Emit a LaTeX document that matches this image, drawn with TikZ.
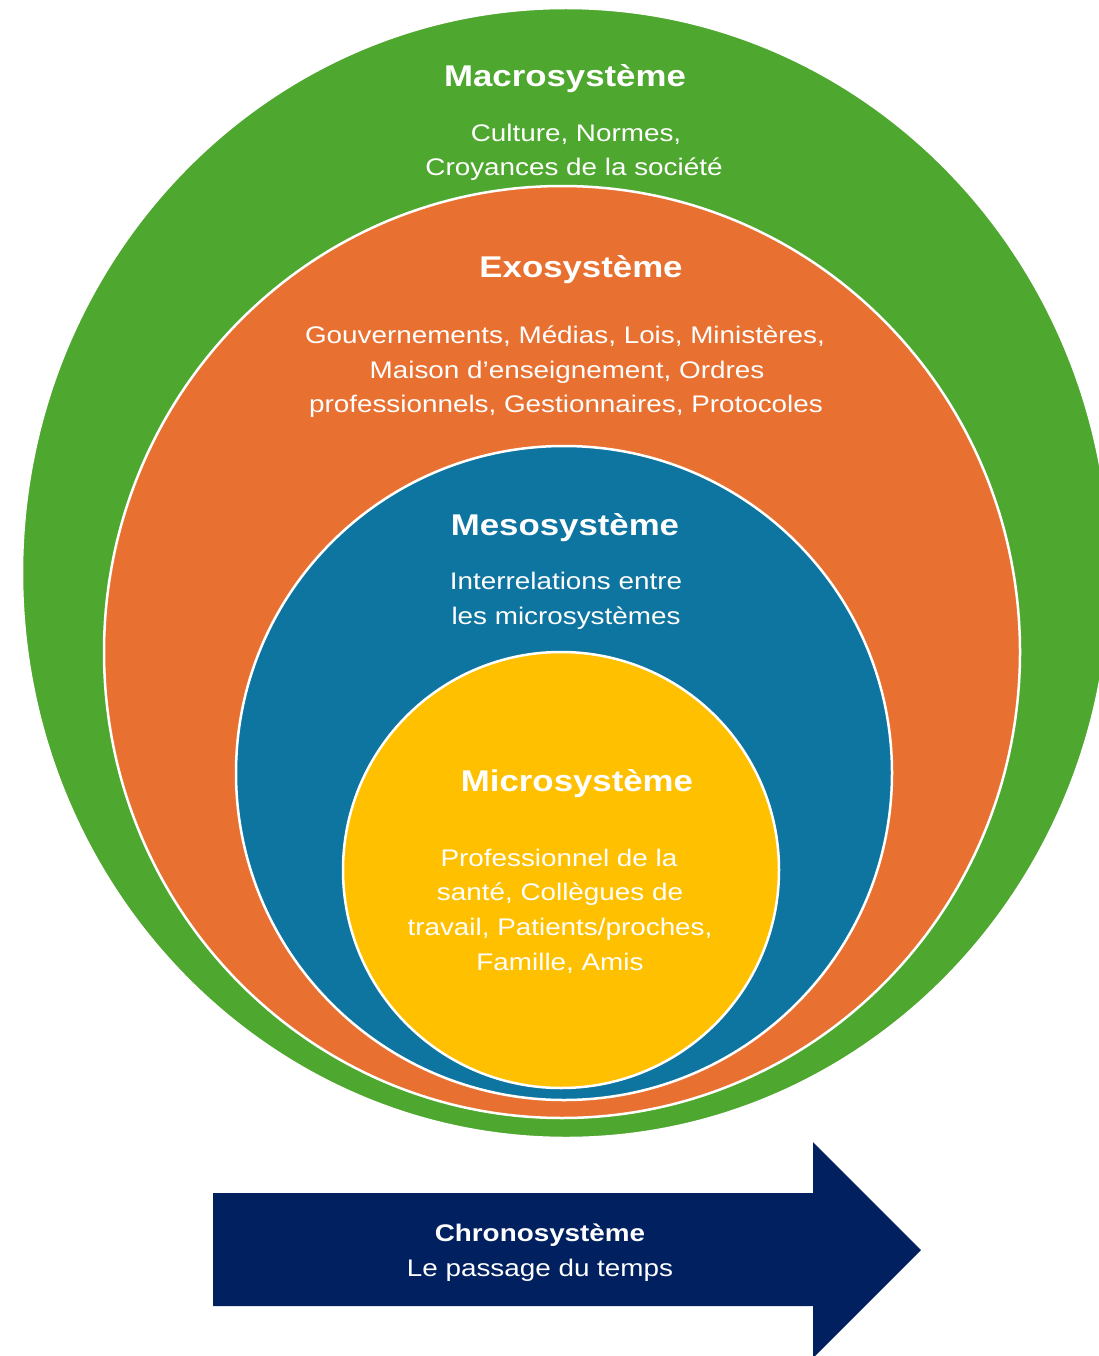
\documentclass[tikz,border=0pt]{standalone}
\usepackage{fontspec}
\setmainfont{Liberation Sans}[FakeStretch=1.16]
\definecolor{macroC}{RGB}{78,167,46}
\definecolor{exoC}{RGB}{232,113,50}
\definecolor{mesoC}{RGB}{14,116,160}
\definecolor{microC}{RGB}{255,192,0}
\definecolor{chronoC}{RGB}{0,32,96}
\begin{document}
\begin{tikzpicture}[x=1pt,y=-1pt,
  ring/.style={draw=white, line width=2.5pt},
  ttl/.style={anchor=base, text=white, inner sep=0pt, font=\fontsize{30}{36}\selectfont\bfseries},
  bodytxt/.style={anchor=base, text=white, inner sep=0pt, font=\fontsize{24}{29}\selectfont},
  chronottl/.style={anchor=base, text=white, inner sep=0pt, font=\fontsize{24}{29}\selectfont\bfseries}]
\useasboundingbox (0,0) rectangle (1099,1356);
\fill[white] (0,0) rectangle (1099,1356);
% rings
\filldraw[ring, fill=macroC] (566,573) ellipse [x radius=544, y radius=565];
\filldraw[ring, fill=exoC] (562,652) ellipse [x radius=458, y radius=466];
\filldraw[ring, fill=mesoC] (564,773) ellipse [x radius=328, y radius=327];
\filldraw[ring, fill=microC] (561,870) ellipse [x radius=218, y radius=218];
% macro
\node[ttl] (macroT) at (565,87) {Macrosystème};
\node[bodytxt] (macro1) at (576,142) {Culture, Normes,};
\node[bodytxt] (macro2) at (574,176) {Croyances de la société};
% exo
\node[ttl] (exoT) at (581,277) {Exosystème};
\node[bodytxt] (exo1) at (565,343) {Gouvernements, Médias, Lois, Ministères,};
\node[bodytxt] (exo2) at (567,378) {Maison d’enseignement, Ordres};
\node[bodytxt] (exo3) at (566,412) {professionnels, Gestionnaires, Protocoles};
% meso
\node[ttl] (mesoT) at (565,535) {Mesosystème};
\node[bodytxt] (meso1) at (566,589) {Interrelations entre};
\node[bodytxt] (meso2) at (566,624) {les microsystèmes};
% micro
\node[ttl] (microT) at (577,791) {Microsystème};
\node[bodytxt] (micro1) at (559,866) {Professionnel de la};
\node[bodytxt] (micro2) at (560,900) {santé, Collègues de};
\node[bodytxt] (micro3) at (560,935) {travail, Patients/proches,};
\node[bodytxt] (micro4) at (560,970) {Famille, Amis};
% chrono arrow
\fill[chronoC] (213,1193) -- (813,1193) -- (813,1142) -- (921,1250) -- (813,1358) -- (813,1306) -- (213,1306) -- cycle;
\node[chronottl] (chronoT) at (540,1241) {Chronosystème};
\node[bodytxt] (chrono1) at (540,1276) {Le passage du temps};
\end{tikzpicture}
\end{document}
